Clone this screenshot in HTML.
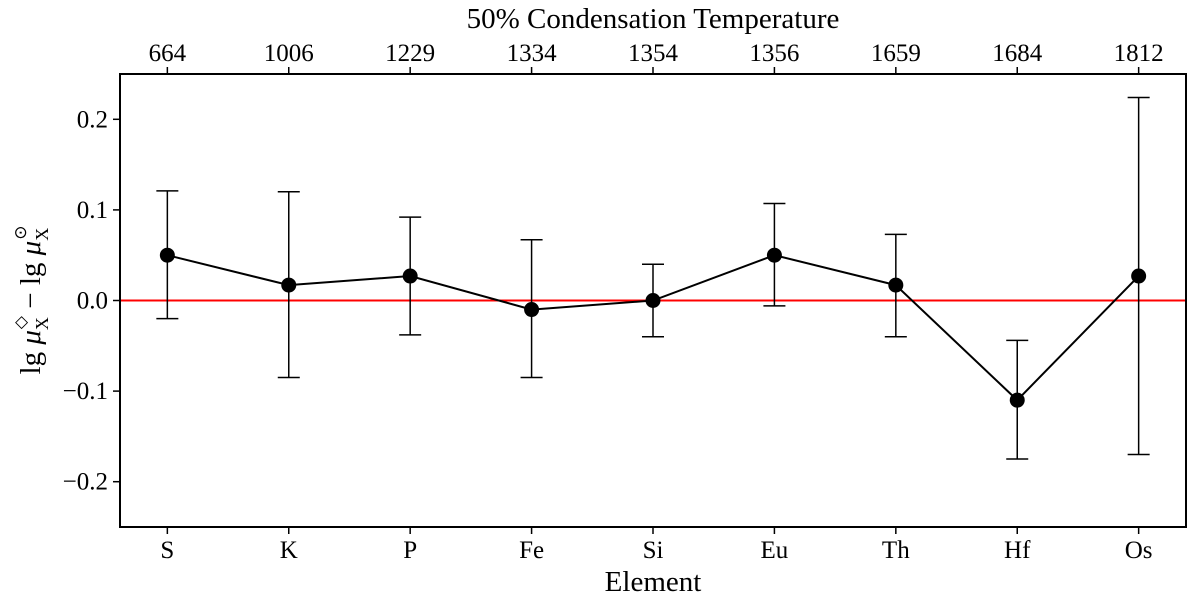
<!DOCTYPE html>
<html><head><meta charset="utf-8"><style>
body{margin:0;background:#fff;width:1200px;height:600px;overflow:hidden}
text{font-family:"Liberation Serif",serif;fill:#000}
</style></head><body>
<svg id="chart" width="1200" height="600" xmlns="http://www.w3.org/2000/svg"></svg>
<script>
const elements=["S","K","P","Fe","Si","Eu","Th","Hf","Os"];
const temps=["664","1006","1229","1334","1354","1356","1659","1684","1812"];
const values=[0.05,0.017,0.027,-0.01,0.0,0.05,0.017,-0.11,0.027];
const lowers=[-0.02,-0.085,-0.038,-0.085,-0.04,-0.006,-0.04,-0.175,-0.17];
const uppers=[0.121,0.12,0.092,0.067,0.04,0.107,0.073,-0.044,0.224];
const yTicks=[-0.2,-0.1,0.0,0.1,0.2];
const yTickLabels=["\u22120.2","\u22120.1","0.0","0.1","0.2"];

const L=120,R=1186,T=74,B=527;
const xs=i=>L+(i+0.39)*(R-L)/8.78;
const ys=v=>T+(0.25-v)/0.5*(B-T);
const svg=document.getElementById('chart');
const NS="http://www.w3.org/2000/svg";
function mk(tag,attrs,txt){const e=document.createElementNS(NS,tag);for(const k in attrs)e.setAttribute(k,attrs[k]);if(txt!==undefined)e.textContent=txt;svg.appendChild(e);return e;}

let e=mk('line',{x1:L,x2:R,y1:ys(0),y2:ys(0),stroke:'#ff0000','stroke-width':2});



elements.forEach((el,i)=>{
  const x=xs(i);
  const g=document.createElementNS(NS,'g');svg.appendChild(g);
  
  
  const a=[[x,x,ys(lowers[i]),ys(uppers[i])],[x-11,x+11,ys(lowers[i]),ys(lowers[i])],[x-11,x+11,ys(uppers[i]),ys(uppers[i])]];
  a.forEach(c=>{const l=document.createElementNS(NS,'line');l.setAttribute('x1',c[0]);l.setAttribute('x2',c[1]);l.setAttribute('y1',c[2]);l.setAttribute('y2',c[3]);l.setAttribute('stroke','#000');l.setAttribute('stroke-width',1.5);g.appendChild(l);});
});
e=mk('polyline',{points:values.map((v,i)=>xs(i)+','+ys(v)).join(' '),fill:'none',stroke:'#000','stroke-width':2});


values.forEach((v,i)=>{
  const c=mk('circle',{cx:xs(i),cy:ys(v),r:7.5,fill:'#000'});
  
  
});
e=mk('rect',{x:L,y:T,width:R-L,height:B-T,fill:'none',stroke:'#000','stroke-width':2});


yTicks.forEach((t,i)=>{
  const y=ys(t);
  mk('line',{x1:L-7,x2:L,y1:y,y2:y,stroke:'#000','stroke-width':1.5});
  const tx=mk('text',{x:L-12,y:y+8,'text-anchor':'end','font-size':25},yTickLabels[i]);
  
  
});
elements.forEach((el,i)=>{
  const x=xs(i);
  mk('line',{x1:x,x2:x,y1:B,y2:B+7,stroke:'#000','stroke-width':1.5});
  mk('line',{x1:x,x2:x,y1:T-7,y2:T,stroke:'#000','stroke-width':1.5});
  let t=mk('text',{x:x,y:B+31,'text-anchor':'middle','font-size':25},el);
  
  
  t=mk('text',{x:x,y:T-13,'text-anchor':'middle','font-size':25},temps[i]);
  
  
});
e=mk('text',{x:(L+R)/2,y:591,'text-anchor':'middle','font-size':29},'Element');


e=mk('text',{x:(L+R)/2,y:28,'text-anchor':'middle','font-size':29},'50% Condensation Temperature');


e=mk('text',{x:0,y:0,'text-anchor':'middle','font-size':29,transform:'translate(40,300) rotate(-90)'});
e.innerHTML='lg <tspan font-style="italic">μ</tspan><tspan font-size="18" dy="8">X</tspan><tspan font-size="17" dx="-12" dy="-22">◇</tspan><tspan dy="14"> − lg </tspan><tspan font-style="italic">μ</tspan><tspan font-size="18" dy="8">X</tspan><tspan font-size="17" dx="-12" dy="-22">⊙</tspan>';


</script>
</body></html>
